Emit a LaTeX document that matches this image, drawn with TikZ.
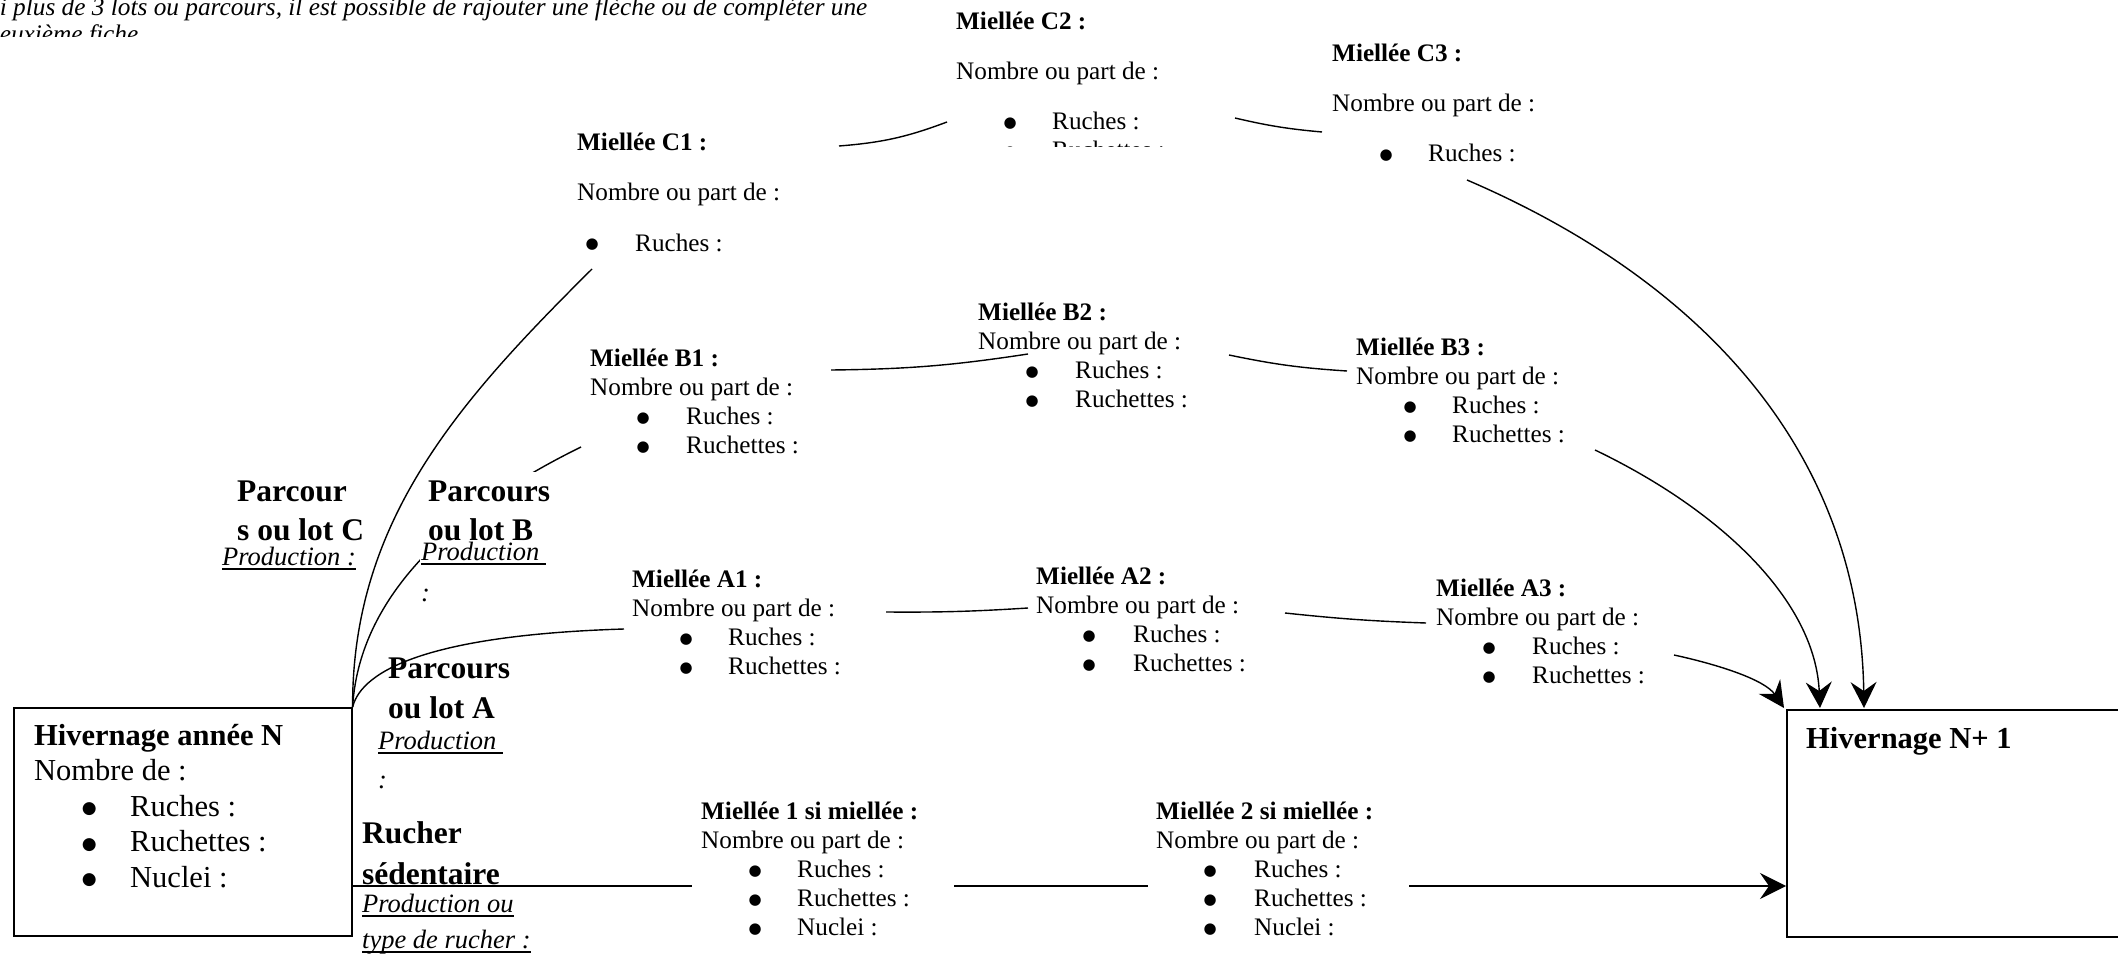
\documentclass[tikz,border=0pt]{standalone}
\usepackage{fontspec}
\setmainfont{Liberation Serif}
\newfontfamily\symf{DejaVu Sans}
\usetikzlibrary{arrows.meta}
\newcommand\blk[2]{\vtop{\baselineskip=#1\lineskiplimit=-1000pt\lineskip=0pt\relax #2}}
\newcommand\bul{\raisebox{2pt}{\fontsize{15}{15}\symf ●}}
\newcommand\bulbig{\raisebox{2.5pt}{\fontsize{17}{17}\symf ●}}
\newcommand\bitem[3]{\hbox{\rlap{\kern#1\hbox to 0pt{\hss\bul\hss}}\kern#2\relax #3}}
\newcommand\bitemB[3]{\hbox{\rlap{\kern#1\hbox to 0pt{\hss\bulbig\hss}}\kern#2\relax #3}}
\newcommand\ul[1]{\setbox0\hbox{#1}\rlap{\vrule height -3pt depth 5pt width \wd0}\box0}
\begin{document}
\begin{tikzpicture}[x=1pt,y=-1pt,
 txt/.style={inner sep=0pt,anchor=base west,font=\fontsize{25.2}{29}\selectfont},
 big/.style={inner sep=0pt,anchor=base west,font=\fontsize{30.5}{36}\selectfont},
 lbl/.style={inner sep=0pt,anchor=base west,font=\fontsize{31.5}{39}\selectfont\bfseries},
 prod/.style={inner sep=0pt,anchor=base west,font=\fontsize{26.5}{30}\selectfont\itshape},
 ln/.style={line width=1.4pt},
 arr/.style={line width=1.4pt,-{Stealth[length=26pt,width=26pt,inset=9pt]}},
 box/.style={draw,line width=1.6pt,inner sep=0pt,anchor=north west}]
\clip (0,0) rectangle (2118,955);

% top note (clipped)
\begin{scope}
\clip (0,0) rectangle (2118,37);
\node[prod,font=\fontsize{25.3}{27}\selectfont\itshape] (note) at (-13,16)
 {\blk{27pt}{\hbox{Si plus de 3 lots ou parcours, il est possible de rajouter une flèche ou de compléter une}\hbox{deuxième fiche}}};
\end{scope}

% boxes
\node[box,minimum width=338pt,minimum height=228pt] (hivN) at (13,707) {};
\node[box,minimum width=400pt,minimum height=227pt] (hivN1) at (1786,709) {};
\node[big] (hivNt) at (34,745) {\blk{35.5pt}{\hbox{\bfseries Hivernage année N}\hbox{Nombre de :}\bitemB{55pt}{96pt}{Ruches :}\bitemB{55pt}{96pt}{Ruchettes :}\bitemB{55pt}{96pt}{Nuclei :}}};
\node[big,font=\fontsize{30.5}{36}\selectfont\bfseries] (hivN1t) at (1806,748) {Hivernage N+ 1};

% C nodes
\node[txt] (C1) at (577,150) {\blk{50.5pt}{\hbox{\bfseries Miellée C1 :}\hbox{Nombre ou part de :}\bitem{15pt}{58pt}{Ruches :}}};
\begin{scope}
\clip (900,0) rectangle (1300,147);
\node[txt] (C2) at (956,30) {\blk{50pt}{\hbox{\bfseries Miellée C2 :}\hbox{Nombre ou part de :}\bitem{54pt}{96pt}{Ruches :}\vskip-21pt\bitem{54pt}{96pt}{Ruchettes :}}};
\end{scope}
\node[txt] (C3) at (1332,62) {\blk{50pt}{\hbox{\bfseries Miellée C3 :}\hbox{Nombre ou part de :}\bitem{54pt}{96pt}{Ruches :}}};

% B nodes
\node[txt] (B1) at (590,366) {\blk{29pt}{\hbox{\bfseries Miellée B1 :}\hbox{Nombre ou part de :}\bitem{53pt}{96pt}{Ruches :}\bitem{53pt}{96pt}{Ruchettes :}}};
\node[txt] (B2) at (978,320) {\blk{29pt}{\hbox{\bfseries Miellée B2 :}\hbox{Nombre ou part de :}\bitem{54pt}{97pt}{Ruches :}\bitem{54pt}{97pt}{Ruchettes :}}};
\node[txt] (B3) at (1356,355) {\blk{29pt}{\hbox{\bfseries Miellée B3 :}\hbox{Nombre ou part de :}\bitem{54pt}{96pt}{Ruches :}\bitem{54pt}{96pt}{Ruchettes :}}};

% A nodes
\node[txt] (A1) at (632,587) {\blk{29pt}{\hbox{\bfseries Miellée A1 :}\hbox{Nombre ou part de :}\bitem{54pt}{96pt}{Ruches :}\bitem{54pt}{96pt}{Ruchettes :}}};
\node[txt] (A2) at (1036,584) {\blk{29pt}{\hbox{\bfseries Miellée A2 :}\hbox{Nombre ou part de :}\bitem{53pt}{97pt}{Ruches :}\bitem{53pt}{97pt}{Ruchettes :}}};
\node[txt] (A3) at (1436,596) {\blk{29pt}{\hbox{\bfseries Miellée A3 :}\hbox{Nombre ou part de :}\bitem{53pt}{96pt}{Ruches :}\bitem{53pt}{96pt}{Ruchettes :}}};

% sedentary nodes
\node[txt] (M1) at (701,819) {\blk{29pt}{\hbox{\bfseries Miellée 1 si miellée :}\hbox{Nombre ou part de :}\bitem{54pt}{96pt}{Ruches :}\bitem{54pt}{96pt}{Ruchettes :}\bitem{54pt}{96pt}{Nuclei :}}};
\node[txt] (M2) at (1156,819) {\blk{29pt}{\hbox{\bfseries Miellée 2 si miellée :}\hbox{Nombre ou part de :}\bitem{54pt}{98pt}{Ruches :}\bitem{54pt}{98pt}{Ruchettes :}\bitem{54pt}{98pt}{Nuclei :}}};

% connector end points
\coordinate (c1out) at (839,146); \coordinate (c2in) at (947,122);
\coordinate (c2out) at (1235,118); \coordinate (c3in) at (1322,132);
\coordinate (c3out) at (1467,180);
\coordinate (c1in) at (592,269);
\coordinate (b1in) at (581,447);
\coordinate (b1out) at (831,370); \coordinate (b2in) at (1028,354);
\coordinate (b2out) at (1229,355); \coordinate (b3in) at (1347,371);
\coordinate (b3out) at (1595,450);
\coordinate (a1in) at (624,629);
\coordinate (a1out) at (886,612); \coordinate (a2in) at (1028,608);
\coordinate (a2out) at (1285,613); \coordinate (a3in) at (1426,623);
\coordinate (a3out) at (1674,655);
\coordinate (s0) at (351,886); \coordinate (m1in) at (692,886);
\coordinate (m1out) at (954,886); \coordinate (m2in) at (1148,886);
\coordinate (m2out) at (1409,886);

% route B (partly hidden by its label)
\draw[ln] (hivN.north east) .. controls (360,580) and (481,496) .. (b1in);
\node[fill=white,inner sep=0pt,minimum width=134pt,minimum height=140pt,anchor=north west] (labBbg) at (420,472) {};
% route C
\draw[ln] (hivN.north east) .. controls (352,520) and (460,400) .. (c1in);
% route A
\draw[ln] (hivN.north east) .. controls (362,670) and (430,635) .. (a1in);

\draw[ln] (c1out) to[bend right=8] (c2in);
\draw[ln] (c2out) to[bend right=4] (c3in);
\draw[arr] (c3out) .. controls (1700,280) and (1860,450) .. (1864,708);
\draw[ln] (b1out) to[bend right=4] (b2in);
\draw[ln] (b2out) to[bend right=4] (b3in);
\draw[arr] (b3out) .. controls (1720,510) and (1815,600) .. (1820,708);
\draw[ln] (a1out) to[bend right=2] (a2in);
\draw[ln] (a2out) to[bend right=2] (a3in);
\draw[arr] (a3out) .. controls (1720,665) and (1765,680) .. (1784,708);
\draw[ln] (s0) -- (m1in);
\draw[ln] (m1out) -- (m2in);
\draw[arr] (m2out) -- (hivN1.west |- m2out);

% labels
\node[lbl] (labC) at (237,501) {\blk{39pt}{\hbox{Parcour}\hbox{s ou lot C}}};
\node[prod] (prodC) at (222,565) {\ul{Production :}};
\node[lbl] (labB) at (428,501) {\blk{39pt}{\hbox{Parcours}\hbox{ou lot B}}};
\node[prod] (prodB) at (421,560) {\blk{41pt}{\hbox{\ul{Production\ }}\hbox{:}}};
\node[lbl] (labA) at (388,678) {\blk{40pt}{\hbox{Parcours}\hbox{ou lot A}}};
\node[prod] (prodA) at (378,749) {\blk{39pt}{\hbox{\ul{Production\ }}\hbox{:}}};
\node[lbl] (labR) at (362,843) {\blk{41pt}{\hbox{Rucher}\hbox{sédentaire}}};
\node[prod] (prodR) at (362,912) {\blk{36pt}{\hbox{\ul{Production ou}}\hbox{\ul{type de rucher :}}}};
\end{tikzpicture}
\end{document}
